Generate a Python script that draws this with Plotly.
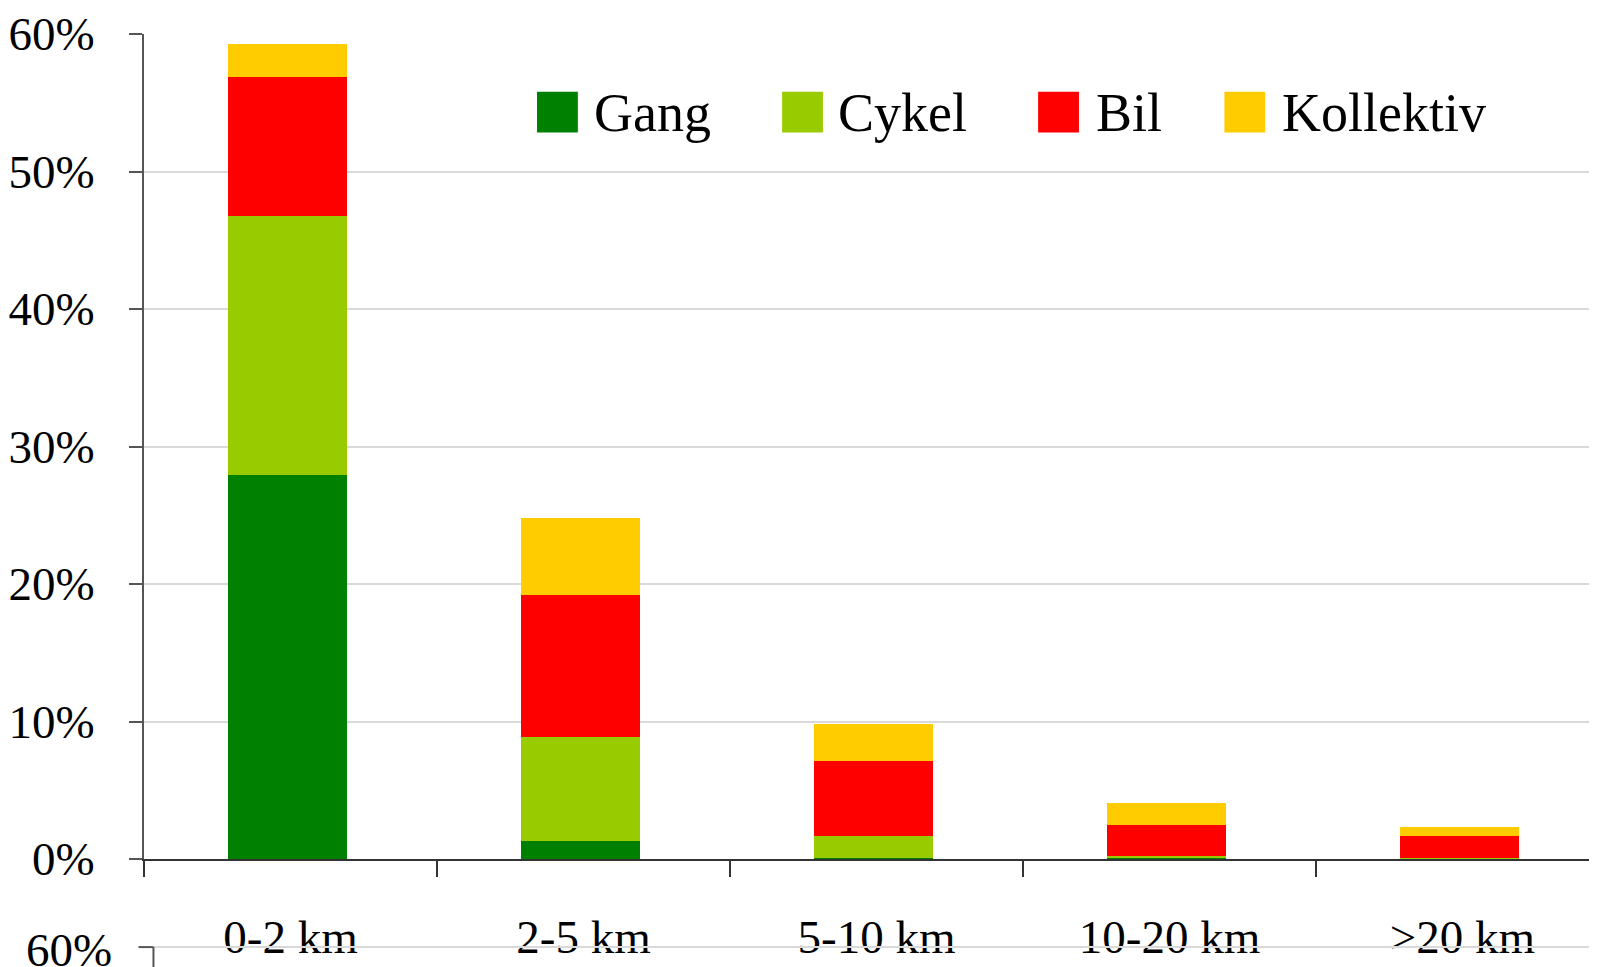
import plotly.graph_objects as go

categories = ['0-2 km', '2-5 km', '5-10 km', '10-20 km', '>20 km']
gang = [27.9, 1.3, 0.1, 0.05, 0.02]
cykel = [18.9, 7.6, 1.6, 0.15, 0.05]
bil = [10.1, 10.3, 5.46, 2.3, 1.6]
kollektiv = [2.35, 5.6, 2.66, 1.55, 0.65]
y_ticks = [0, 10, 20, 30, 40, 50, 60]

series = [
    ('Gang', gang, '#008000'),
    ('Cykel', cykel, '#99CC00'),
    ('Bil', bil, '#FF0000'),
    ('Kollektiv', kollektiv, '#FFCC00'),
]

W, H = 1597, 967
L, T, B = 138.5, 30.6, 858.6
PAGE_MARGIN = 8  # default body margin of the html page
FONT = 'Liberation Serif'
BAR_W = 0.405


def px_x(x):
    return (x - L) / (W - L)


def px_y(y):
    return (B - y) / (B - T)


fig = go.Figure()
for name, vals, color in series:
    fig.add_trace(go.Bar(
        x=categories,
        y=vals,
        name=name,
        width=BAR_W,
        offset=-BAR_W / 2 - 0.01,
        marker=dict(color=color, line=dict(width=0)),
        showlegend=False
    ))

# legend drawn by hand so the swatches match the large text
legend_pos = [(533, 588), (779, 833), (1036, 1092), (1223, 1279)]
shapes = []
annotations = []
for (name, _, color), (sx, tx) in zip(series, legend_pos):
    shapes.append(dict(type='rect', xref='paper', yref='paper',
                       x0=px_x(sx), x1=px_x(sx + 41), y0=px_y(129.4), y1=px_y(88.6),
                       fillcolor=color, line=dict(width=0)))
    annotations.append(dict(text=name, xref='paper', yref='paper',
                            x=px_x(tx), y=px_y(110), xanchor='left', yanchor='middle',
                            showarrow=False, font=dict(family=FONT, size=54, color='black')))

# top of the next chart peeking in at the bottom
shapes.append(dict(type='line', xref='paper', yref='paper',
                   x0=px_x(148), x1=1.0, y0=px_y(947), y1=px_y(947),
                   line=dict(color='#d9d9d9', width=2)))
shapes.append(dict(type='line', xref='paper', yref='paper',
                   x0=px_x(133), x1=px_x(148), y0=px_y(947), y1=px_y(947),
                   line=dict(color='#555555', width=2)))
shapes.append(dict(type='line', xref='paper', yref='paper',
                   x0=px_x(148), x1=px_x(148), y0=px_y(947), y1=px_y(970),
                   line=dict(color='#555555', width=2)))
annotations.append(dict(text='60%', xref='paper', yref='paper',
                        x=px_x(108), y=px_y(950), xanchor='right', yanchor='middle',
                        showarrow=False, font=dict(family=FONT, size=47, color='black')))

fig.update_layout(
    barmode='stack',
    width=W - PAGE_MARGIN,
    height=H - PAGE_MARGIN,
    margin=dict(l=L - PAGE_MARGIN, r=0, t=T - PAGE_MARGIN, b=H - B, pad=0),
    plot_bgcolor='white',
    paper_bgcolor='white',
    font=dict(family=FONT, size=47, color='black'),
    shapes=shapes,
    annotations=annotations,
    xaxis=dict(
        range=[-0.5, -0.5 + (W - L) / 294.1],
        showline=True, linecolor='#333333', linewidth=2,
        ticks='outside', tickson='boundaries', ticklen=16, tickwidth=2, tickcolor='#333333',
        ticklabelstandoff=36,
        ticklabeloverflow='allow',
        showgrid=False,
        tickfont=dict(family=FONT, size=47, color='black'),
    ),
    yaxis=dict(
        range=[0, 60],
        tickvals=y_ticks,
        ticktext=[f'{v}%' for v in y_ticks],
        showline=True, linecolor='#555555', linewidth=2,
        ticks='outside', ticklen=13, tickwidth=2, tickcolor='#555555',
        ticklabelstandoff=25,
        ticklabeloverflow='allow',
        showgrid=True, gridcolor='#d9d9d9', gridwidth=2,
        zeroline=False,
        tickfont=dict(family=FONT, size=47, color='black'),
    ),
)

fig.write_html('out.html')
